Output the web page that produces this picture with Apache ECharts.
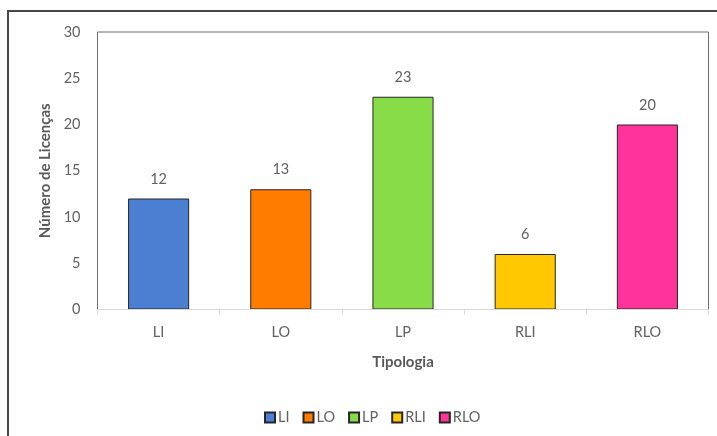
<!DOCTYPE html>
<html>
<head>
<meta charset="utf-8">
<script src="https://cdn.jsdelivr.net/npm/echarts@6/dist/echarts.min.js"></script>
<style>
  html, body { margin: 0; padding: 0; background: #fff; overflow: hidden; }
  #chart { width: 717px; height: 436px; position: absolute; left: 0; top: 0; }
  #frame { position: absolute; left: 7px; top: 10px; width: 760px; height: 480px;
           border: 2px solid #474747; pointer-events: none; box-sizing: border-box; }
</style>
</head>
<body>
<div id="chart"></div>
<div id="frame"></div>
<script>
// Licences per typology
const categories = ['LI', 'LO', 'LP', 'RLI', 'RLO'];
const licences = [12, 13, 23, 6, 20];
const colors = ['#4a7fd2', '#ff7c00', '#88dc47', '#ffc800', '#ff3399'];
const yTicks = { min: 0, max: 30, interval: 5 };

const FONT = 'Lato, "Open Sans", sans-serif';
const TEXT = '#616161';

// one stacked series per category so each gets its own legend entry
const series = categories.map((name, i) => ({
  name: name,
  type: 'bar',
  stack: 'all',
  barWidth: '50%',
  data: categories.map((c, j) => (j === i ? licences[i] : '-')),
  itemStyle: { color: colors[i], borderColor: '#262626', borderWidth: 1 },
  label: {
    show: true, position: 'top', distance: 12,
    color: TEXT, fontFamily: FONT, fontSize: 14.5
  }
}));

const chart = echarts.init(document.getElementById('chart'), null, { renderer: 'canvas' });
chart.setOption({
  animation: false,
  backgroundColor: '#fff',
  textStyle: { fontFamily: FONT },
  grid: {
    left: 97.5, right: 8.5, top: 32, bottom: 126.5,
    containLabel: false, outerBoundsMode: 'none',
    show: true, borderColor: '#6e6e6e', borderWidth: 1, backgroundColor: 'transparent'
  },
  legend: {
    data: categories,
    left: 259, top: 405,
    itemWidth: 10, itemHeight: 10, itemGap: 13,
    icon: 'rect',
    textStyle: { color: TEXT, fontFamily: FONT, fontSize: 14.5, padding: [0, 0, 0, -2] }
  },
  xAxis: {
    type: 'category',
    data: categories,
    name: 'Tipologia',
    nameLocation: 'middle',
    nameGap: 45,
    nameTextStyle: { color: '#595959', fontWeight: 'bold', fontSize: 15, fontFamily: FONT },
    axisLine: { show: true, lineStyle: { color: '#d9d9d9', width: 1 } },
    axisTick: { show: true, length: 5, lineStyle: { color: '#d9d9d9' } },
    axisLabel: { color: TEXT, fontSize: 14.5, margin: 15, fontFamily: FONT },
    z: 5
  },
  yAxis: {
    type: 'value',
    min: yTicks.min, max: yTicks.max, interval: yTicks.interval,
    name: 'Número de Licenças',
    nameLocation: 'middle',
    nameGap: 45,
    nameTextStyle: { color: '#595959', fontWeight: 'bold', fontSize: 15, fontFamily: FONT },
    axisLine: { show: false },
    axisTick: { show: false },
    splitLine: { show: false },
    axisLabel: { color: TEXT, fontSize: 14.5, margin: 17, fontFamily: FONT }
  },
  series: series
});
</script>
</body>
</html>
